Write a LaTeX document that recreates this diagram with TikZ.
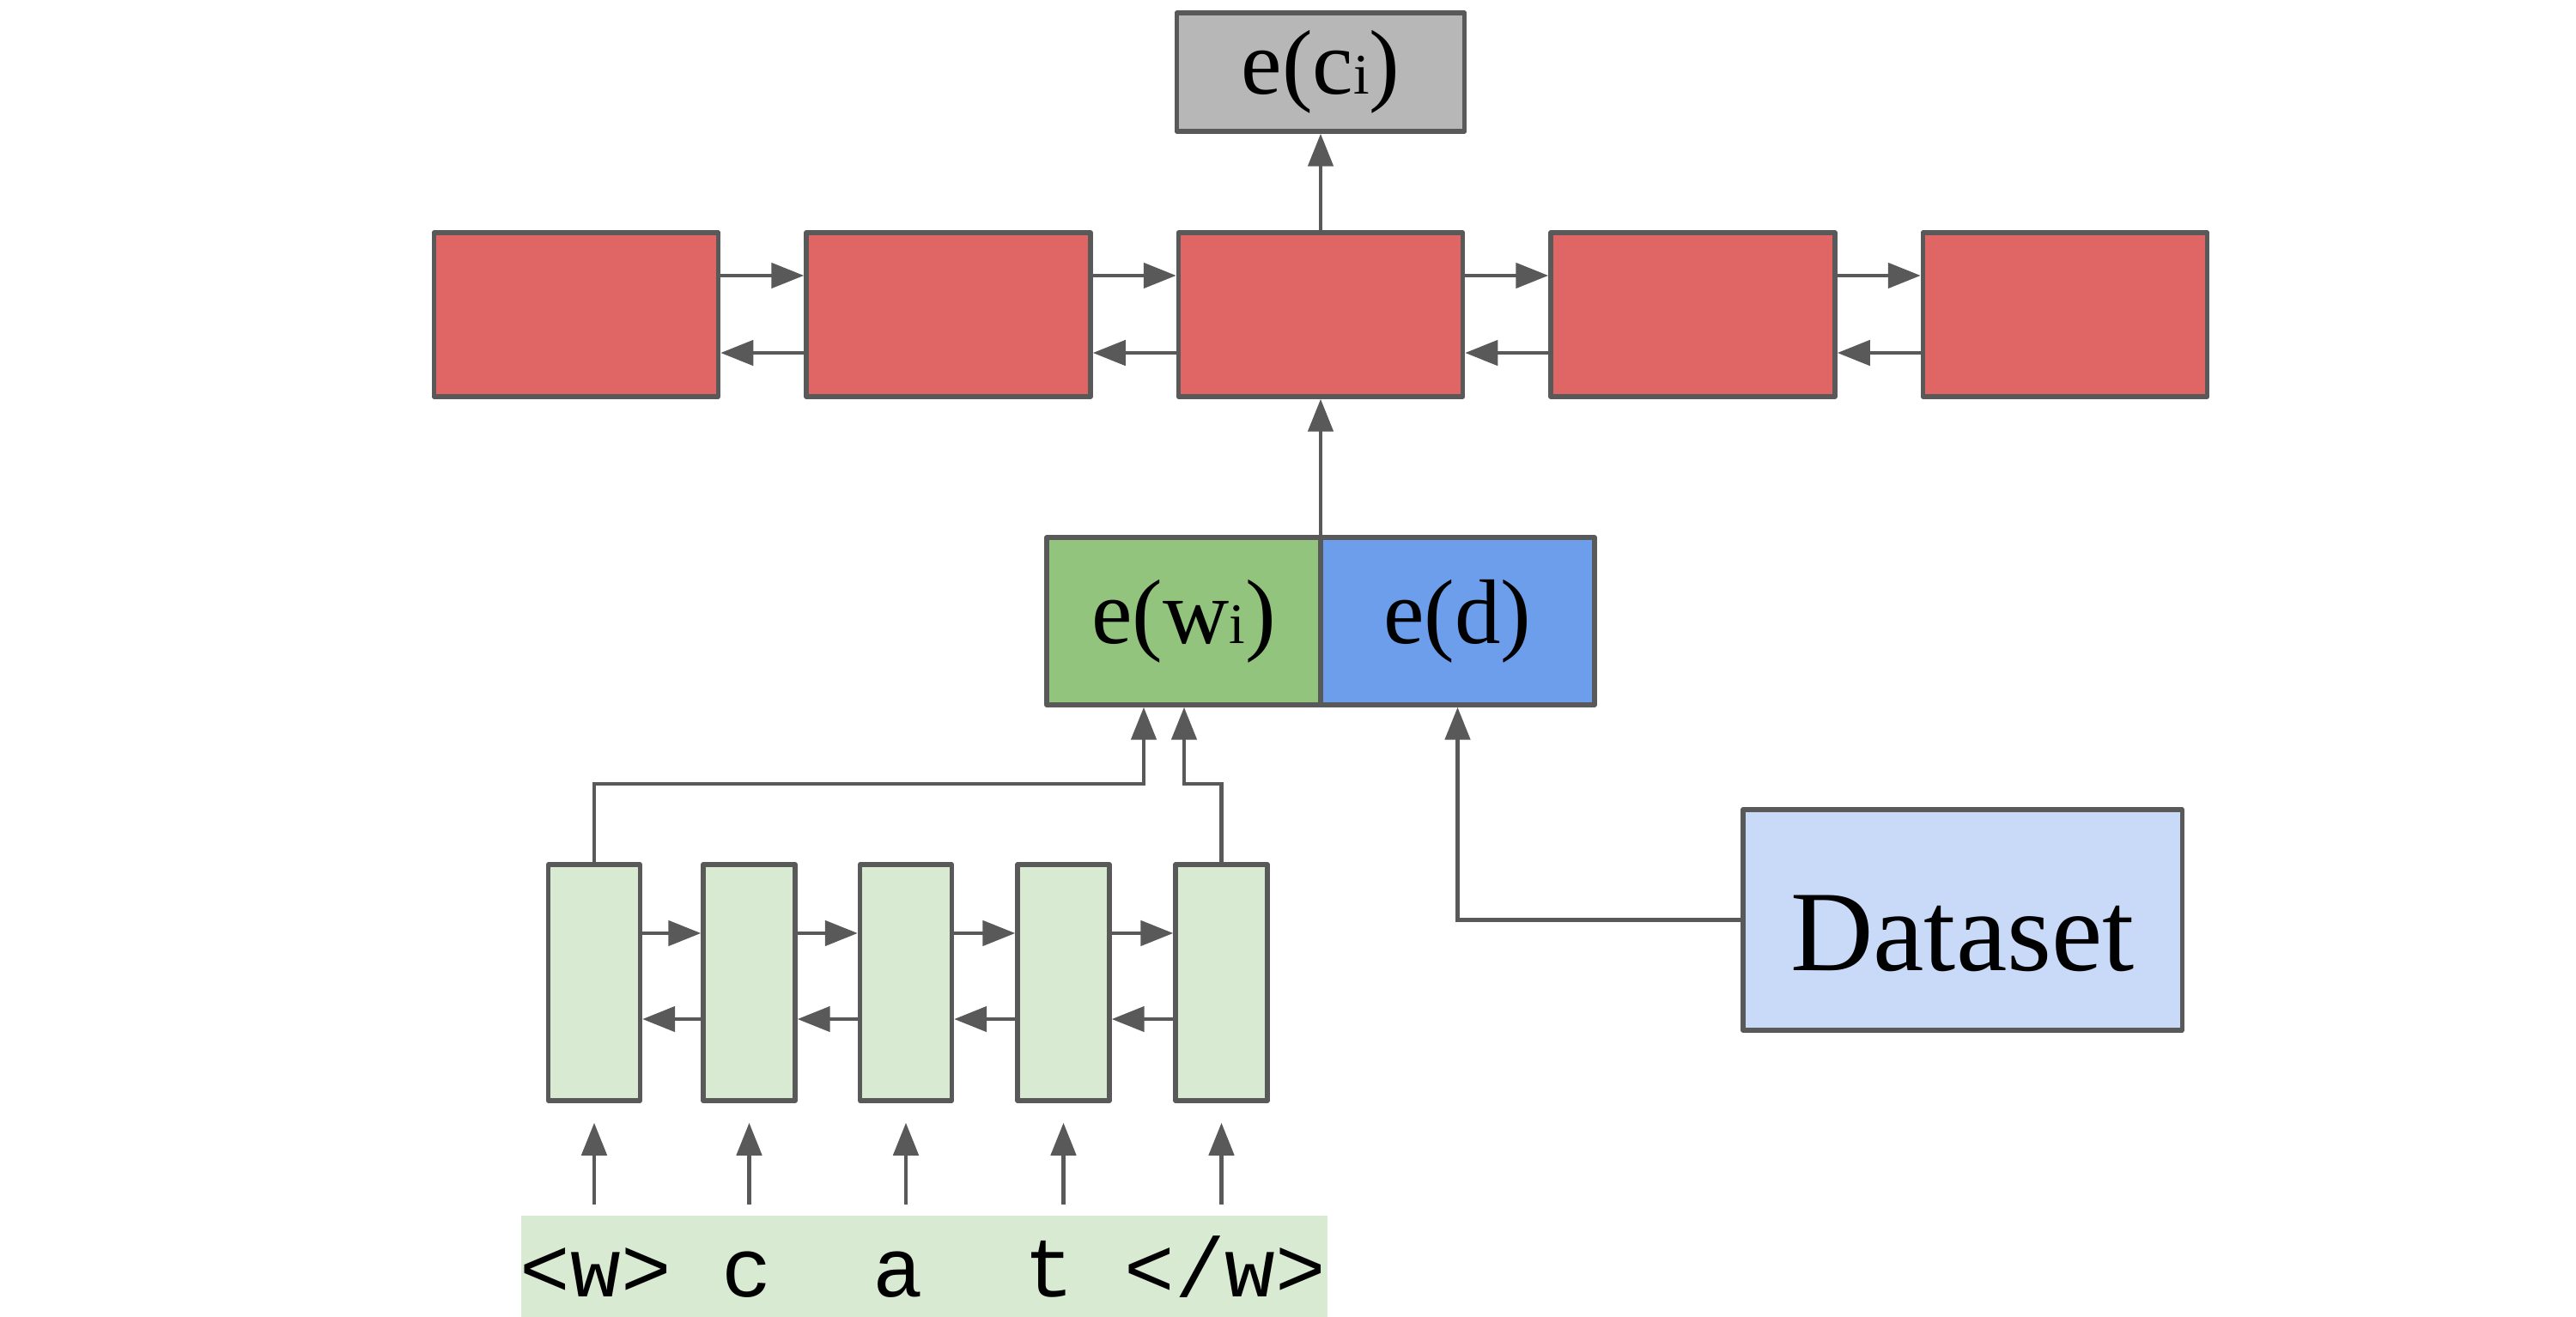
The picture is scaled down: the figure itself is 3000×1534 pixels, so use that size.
\documentclass[tikz,border=0pt]{standalone}
\usepackage{fontspec}
\setmainfont{Liberation Serif}
\newfontfamily\tokfont{Liberation Mono}
\usetikzlibrary{arrows.meta}
\definecolor{edge}{HTML}{595959}
\definecolor{outgray}{HTML}{B7B7B7}
\definecolor{lstmred}{HTML}{E06666}
\definecolor{wordgreen}{HTML}{93C47D}
\definecolor{docblue}{HTML}{6D9EEB}
\definecolor{dataBlue}{HTML}{C9DAF8}
\definecolor{charGreen}{HTML}{D9EAD3}
\newcommand{\sub}[1]{{\fontsize{19pt}{19pt}\selectfont #1}}
\begin{document}
\begin{tikzpicture}[x=0.01cm,y=-0.01cm,
  box/.style={draw=edge, line width=1.5pt, inner sep=0pt, line join=round},
  lbl/.style={font=\fontsize{30.4pt}{36pt}\selectfont},
  redcell/.style={box, fill=lstmred, minimum width=3.31cm, minimum height=1.91cm},
  charcell/.style={box, fill=charGreen, minimum width=1.07cm, minimum height=2.75cm},
  conn/.style={draw=edge, line width=1.35pt, -{Triangle[length=0.38cm,width=0.29cm]}},
  link/.style={draw=edge, line width=1.35pt, line join=round}
]
\useasboundingbox (0,0) rectangle (3000,1534);

% output embedding
\node[box, fill=outgray, minimum width=3.35cm, minimum height=1.38cm, lbl] (ec) at (1538,84) {e(c\sub{i})};

% word-level bidirectional LSTM
\node[redcell] (r1) at (671,366.5) {};
\node[redcell] (r2) at (1104.5,366.5) {};
\node[redcell] (r3) at (1538,366.5) {};
\node[redcell] (r4) at (1971.5,366.5) {};
\node[redcell] (r5) at (2405,366.5) {};

\foreach \a/\b in {r1/r2,r2/r3,r3/r4,r4/r5}{
  \draw[conn] ([yshift=0.455cm]\a.east) -- ([yshift=0.455cm]\b.west);
  \draw[conn] ([yshift=-0.445cm]\b.west) -- ([yshift=-0.445cm]\a.east);
}
\draw[conn] (r3.north) -- (ec.south);

% concatenated input embeddings
\node[box, fill=wordgreen, minimum width=3.19cm, minimum height=1.95cm, lbl] (ew) at (1378.5,723.5) {e(w\sub{i})};
\node[box, fill=docblue, minimum width=3.19cm, minimum height=1.95cm, lbl] (ed) at (1697.5,723.5) {e(d)};
\draw[conn] (r3.south |- ew.north) -- (r3.south);

% dataset source
\node[box, fill=dataBlue, minimum width=5.11cm, minimum height=2.57cm,
  font=\fontsize{38pt}{44pt}\selectfont] (ds) at (2285.5,1071.5)
  {\raisebox{-0.16cm}[\height][\depth]{Dataset}};
\draw[conn] (ds.west) -| (ed.south);

% character-level bidirectional LSTM
\node[charcell] (s1) at (692,1144.5) {};
\node[charcell] (s2) at (872.5,1144.5) {};
\node[charcell] (s3) at (1055,1144.5) {};
\node[charcell] (s4) at (1238.5,1144.5) {};
\node[charcell] (s5) at (1422.5,1144.5) {};

\foreach \a/\b in {s1/s2,s2/s3,s3/s4,s4/s5}{
  \draw[conn] ([yshift=0.575cm]\a.east) -- ([yshift=0.575cm]\b.west);
  \draw[conn] ([yshift=-0.425cm]\b.west) -- ([yshift=-0.425cm]\a.east);
}

\coordinate (j1) at (1332,913);
\coordinate (j2) at (1379,913);
\draw[conn] (s1.north) |- (j1) -- (j1 |- ew.south);
\draw[conn] (s5.north) |- (j2) -- (j2 |- ew.south);

% character input sequence
\node[fill=charGreen, minimum width=9.39cm, minimum height=1.18cm, inner sep=0pt] (band) at (1076.5,1475) {};
\node[anchor=base west, inner sep=0pt, font=\tokfont\fontsize{27.8pt}{30pt}\selectfont] (chars) at (605,1510) {<w>~c~~a~~t~</w>};

\foreach \s in {s1,s2,s3,s4,s5}{
  \draw[conn] ([yshift=0.12cm]\s.south |- band.north) -- ([yshift=-0.23cm]\s.south);
}
\end{tikzpicture}
\end{document}
